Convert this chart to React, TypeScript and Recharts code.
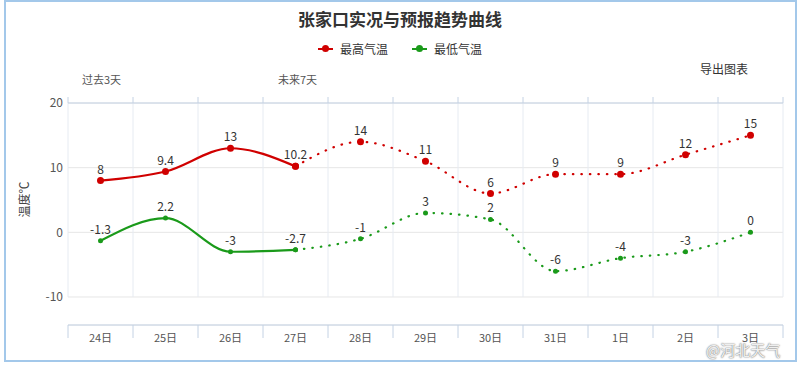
import React from 'react';
import { LineChart, Line, XAxis, YAxis, CartesianGrid, ReferenceLine } from 'recharts';

const days = ['24日', '25日', '26日', '27日', '28日', '29日', '30日', '31日', '1日', '2日', '3日'];
const highs = [8, 9.4, 13, 10.2, 14, 11, 6, 9, 9, 12, 15];
const lows = [-1.3, 2.2, -3, -2.7, -1, 3, 2, -6, -4, -3, 0];
const pastDays = 4; // 24..27 observed, rest forecast
const yTicks = [-10, 0, 10, 20];

const RED = '#d00000';
const GREEN = '#1a9a1a';
const FONT = '"Noto Sans CJK SC", "Noto Sans", sans-serif';

const W = 800;
const H = 365;
const M = { top: 93, right: 17, bottom: 0, left: 0 };
const Y_W = 68;
const BAND = (W - M.left - M.right - Y_W) / days.length;

const data = days.map((day, i) => ({
  i,
  day,
  hiPast: i < pastDays ? highs[i] : null,
  hiFc: i >= pastDays - 1 ? highs[i] : null,
  loPast: i < pastDays ? lows[i] : null,
  loFc: i >= pastDays - 1 ? lows[i] : null,
}));

const centers = days.map((_, i) => i);
const bounds = [...days.map((_, i) => i - 0.5), days.length - 0.5];

const BottomTick = (props: any) => {
  const { x, y, payload } = props;
  const half = BAND / 2;
  const top = y - 8;
  return (
    <g>
      {payload.value === 0 && (
        <line x1={x - half} y1={top} x2={x - half} y2={top + 13} stroke="#c4d2e4" />
      )}
      <line x1={x + half} y1={top} x2={x + half} y2={top + 13} stroke="#c4d2e4" />
      <text x={x} y={y} dy="0.85em" textAnchor="middle" fontSize={11} fill="#555" fontFamily={FONT}>
        {days[payload.value]}
      </text>
    </g>
  );
};

const makeLabel = (skip: number) => (p: any) => {
  if (p.index === skip || p.value == null) return <g key={p.index} />;
  return (
    <text key={p.index} x={p.x} y={p.y - 7} textAnchor="middle" fontSize={12} fill="#333" fontFamily={FONT}>
      {p.value}
    </text>
  );
};

const LegendItem = ({ color, name }: { color: string; name: string }) => (
  <div style={{ display: 'flex', alignItems: 'center', gap: 7 }}>
    <span style={{ position: 'relative', width: 15, height: 2, background: color, display: 'inline-block' }}>
      <span
        style={{
          position: 'absolute', left: 4, top: -3, width: 7, height: 7,
          borderRadius: '50%', background: color,
        }}
      />
    </span>
    <span>{name}</span>
  </div>
);

export default function App() {
  return (
    <div style={{ position: 'absolute', left: 0, top: 0, width: W, height: H, background: '#fff', fontFamily: FONT }}>
      <div
        style={{
          position: 'absolute', left: 4, top: 0, width: 789, height: 358,
          border: '2px solid #a3c8ea', boxSizing: 'content-box',
        }}
      />
      <div style={{ position: 'absolute', top: 6, left: 0, width: W, textAlign: 'center', fontSize: 17, fontWeight: 'bold', color: '#333' }}>
        张家口实况与预报趋势曲线
      </div>
      <div
        style={{
          position: 'absolute', top: 40, left: 0, width: W, display: 'flex',
          justifyContent: 'center', gap: 24, fontSize: 12, color: '#333',
        }}
      >
        <LegendItem color={RED} name="最高气温" />
        <LegendItem color={GREEN} name="最低气温" />
      </div>
      <div style={{ position: 'absolute', top: 60, left: 700, fontSize: 12, color: '#333' }}>导出图表</div>
      <div style={{ position: 'absolute', top: 71, left: 82, fontSize: 11, color: '#555' }}>过去3天</div>
      <div style={{ position: 'absolute', top: 71, left: 278, fontSize: 11, color: '#555' }}>未来7天</div>
      <div
        style={{
          position: 'absolute', left: 5, top: 191, fontSize: 12, color: '#444',
          transform: 'rotate(-90deg)', whiteSpace: 'nowrap',
        }}
      >
        温度℃
      </div>

      <div style={{ position: 'absolute', left: 0, top: 0 }}>
        <LineChart width={W} height={H} data={data} margin={M}>
          <CartesianGrid vertical={false} stroke="#e6e6e6" />
          {bounds.map((b) => (
            <ReferenceLine
              key={b}
              xAxisId="main"
              segment={[{ x: b, y: -10 }, { x: b, y: 20 }]}
              stroke="#e6ebf2"
            />
          ))}
          <XAxis
            xAxisId="top"
            orientation="top"
            dataKey="i"
            type="number"
            domain={[-0.5, days.length - 0.5]}
            ticks={bounds}
            interval={0}
            height={10}
            tick={() => <g />}
            tickSize={6}
            stroke="#c4d2e4"
            allowDataOverflow
          />
          <XAxis
            xAxisId="main"
            dataKey="i"
            type="number"
            domain={[-0.5, days.length - 0.5]}
            ticks={centers}
            interval={0}
            height={H - 325}
            tickLine={false}
            tickSize={0}
            tickMargin={8}
            tick={<BottomTick />}
            stroke="#c4d2e4"
            allowDataOverflow
          />
          <YAxis
            width={Y_W}
            domain={[-14.33, 20]}
            ticks={yTicks}
            interval={0}
            axisLine={false}
            tickLine={false}
            tickSize={0}
            tickMargin={5}
            tick={{ fontSize: 12, fill: '#555', fontFamily: FONT }}
            allowDataOverflow
          />
          <Line
            xAxisId="main"
            type="monotone"
            dataKey="hiPast"
            stroke={RED}
            strokeWidth={2.2}
            dot={{ r: 3.5, fill: RED, stroke: RED, strokeWidth: 0 }}
            label={makeLabel(-1)}
            isAnimationActive={false}
          />
          <Line
            xAxisId="main"
            type="monotone"
            dataKey="hiFc"
            stroke={RED}
            strokeWidth={2.2}
            strokeDasharray="0.5 8"
            strokeLinecap="round"
            dot={{ r: 3.5, fill: RED, stroke: RED, strokeWidth: 0 }}
            label={makeLabel(pastDays - 1)}
            isAnimationActive={false}
          />
          <Line
            xAxisId="main"
            type="monotone"
            dataKey="loPast"
            stroke={GREEN}
            strokeWidth={2.2}
            dot={{ r: 2.5, fill: GREEN, stroke: GREEN, strokeWidth: 0 }}
            label={makeLabel(-1)}
            isAnimationActive={false}
          />
          <Line
            xAxisId="main"
            type="monotone"
            dataKey="loFc"
            stroke={GREEN}
            strokeWidth={2.2}
            strokeDasharray="0.5 8"
            strokeLinecap="round"
            dot={{ r: 2.5, fill: GREEN, stroke: GREEN, strokeWidth: 0 }}
            label={makeLabel(pastDays - 1)}
            isAnimationActive={false}
          />
        </LineChart>
      </div>
      <div
        style={{
          position: 'absolute', left: 706, top: 342, fontSize: 15, lineHeight: '16px',
          color: 'rgba(255,255,255,0.9)', textShadow: '0 0 2px #888, 0 0 1px #666',
        }}
      >
        @河北天气
      </div>
    </div>
  );
}
